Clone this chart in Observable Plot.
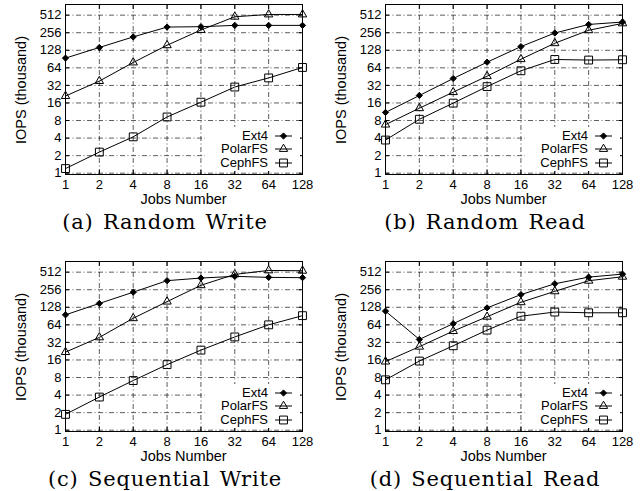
<!DOCTYPE html>
<html>
<head>
<meta charset="utf-8">
<script src="https://cdn.jsdelivr.net/npm/d3@7"></script>
<script src="https://cdn.jsdelivr.net/npm/@observablehq/plot@0.6"></script>
<style>
  html, body { margin: 0; padding: 0; background: #fff; }
  #root { position: relative; width: 644px; height: 491px; overflow: hidden; }
  .panel { position: absolute; width: 330px; height: 240px; }
  .panel svg { position: absolute; left: 0; top: 0; }
  .caption { position: absolute; left: 0; width: 330px; top: 209px; text-align: center;
    font-family: "DejaVu Serif", serif; font-size: 21px; line-height: 26px; letter-spacing: 0.8px; word-spacing: 2px; color: #000; white-space: nowrap; }
  .xlabel { position: absolute; left: 65px; width: 237px; top: 191px; text-align: center;
    font-family: "Liberation Sans", Arial, sans-serif; font-size: 14.5px; line-height: 16px; color: #000; white-space: nowrap; }
  .ylabel { position: absolute; left: 21px; top: 90px; width: 0; height: 0; }
  .ylabel span { position: absolute; left: 0; top: 0; transform: translate(-50%, -50%) rotate(-90deg);
    font-family: "Liberation Sans", Arial, sans-serif; font-size: 14.5px; line-height: 16px; color: #000; white-space: nowrap; }
  .legend { position: absolute; left: 205px; top: 127px; width: 95px; height: 44px; background: #fff;
    font-family: "Liberation Sans", Arial, sans-serif; font-size: 13px; color: #000; }
  .legend .row { position: absolute; left: 0; width: 95px; height: 14px; }
  .legend .row span { position: absolute; right: 32px; top: 0px; line-height: 14px; white-space: nowrap; }
  .legend .row svg { position: absolute; left: 66px; top: 0; }
</style>
</head>
<body>
<div id="root"></div>
<script>
// ---- data ----
const jobs = [1, 2, 4, 8, 16, 32, 64, 128];
const yTicks = [1, 2, 4, 8, 16, 32, 64, 128, 256, 512];
const seriesNames = ["Ext4", "PolarFS", "CephFS"];
const panelTitles = ["(a) Random Write", "(b) Random Read", "(c) Sequential Write", "(d) Sequential Read"];
const xLabel = "Jobs Number";
const yLabel = "IOPS (thousand)";

const randWriteExt4    = [94, 143, 217, 320, 325, 342, 342, 342];
const randWritePolarFS = [21, 38, 79, 156, 285, 481, 526, 526];
const randWriteCephFS  = [1.2, 2.3, 4.2, 9.2, 16.5, 30, 43, 65];

const randReadExt4    = [11, 21.5, 42, 80, 148, 253, 355, 390];
const randReadPolarFS = [6.8, 13, 24.5, 46, 90, 169, 282, 370];
const randReadCephFS  = [3.7, 8.4, 15.9, 30.5, 57, 89, 87, 88];

const seqWriteExt4    = [95, 149, 232, 366, 406, 434, 417, 412];
const seqWritePolarFS = [21.8, 39, 83, 160, 305, 469, 548, 541];
const seqWriteCephFS  = [1.87, 3.7, 7.1, 13.3, 23.6, 39.7, 64, 92];

const seqReadExt4    = [110, 36, 67, 125, 211, 324, 421, 474];
const seqReadPolarFS = [15, 27, 50, 88, 156, 240, 365, 427];
const seqReadCephFS  = [7.3, 15.3, 28, 52, 90, 106, 103, 103];

const panelSeries = [
  [randWriteExt4, randWritePolarFS, randWriteCephFS],
  [randReadExt4, randReadPolarFS, randReadCephFS],
  [seqWriteExt4, seqWritePolarFS, seqWriteCephFS],
  [seqReadExt4, seqReadPolarFS, seqReadCephFS]
];

// ---- styles ----
const markerStyle = {
  Ext4:    {symbol: "diamond2", r: 2.8, fill: "black", stroke: "black"},
  PolarFS: {symbol: "triangle2", r: 4.0, fill: "none", stroke: "black"},
  CephFS:  {symbol: "square2", r: 5.0, fill: "none", stroke: "black"}
};
const panelPos = [[0, 0], [320, 0], [0, 257], [320, 257]];

const root = document.getElementById("root");

function rows(vals, name) {
  return jobs.map((j, i) => ({jobs: j, iops: vals[i], series: name}));
}

panelSeries.forEach((series, p) => {
  const panel = document.createElement("div");
  panel.className = "panel";
  panel.style.left = panelPos[p][0] + "px";
  panel.style.top = panelPos[p][1] + "px";
  root.appendChild(panel);

  const gridStyle = {stroke: "#111", strokeOpacity: 0.85, strokeWidth: 0.8, strokeDasharray: "5,2.5,1,2.5"};
  const marks = [
    Plot.gridX(jobs, gridStyle),
    Plot.gridY(yTicks, gridStyle),
    Plot.axisX(jobs, {anchor: "bottom", tickSize: 0, tickPadding: 5, fontSize: 13, tickFormat: d => String(d), label: null}),
    Plot.axisX(jobs, {anchor: "bottom", tickSize: -4, text: null, label: null}),
    Plot.axisX(jobs, {anchor: "top", tickSize: -4, text: null, label: null}),
    Plot.axisY(yTicks, {anchor: "left", tickSize: 0, tickPadding: 4, fontSize: 13, tickFormat: d => String(d), label: null}),
    Plot.axisY(yTicks, {anchor: "left", tickSize: -4, text: null, label: null}),
    Plot.axisY(yTicks, {anchor: "right", tickSize: -4, text: null, label: null}),
    Plot.frame({stroke: "black", strokeWidth: 1})
  ];
  series.forEach((vals, s) => {
    const name = seriesNames[s];
    const data = rows(vals, name);
    marks.push(Plot.line(data, {x: "jobs", y: "iops", stroke: "black", strokeWidth: 1}));
    const ms = markerStyle[name];
    marks.push(Plot.dot(data, {x: "jobs", y: "iops", symbol: ms.symbol, r: ms.r, fill: ms.fill, stroke: ms.stroke, strokeWidth: 1}));
  });

  const chart = Plot.plot({
    width: 322,
    height: 210,
    marginLeft: 65,
    marginRight: 20,
    marginTop: 4,
    marginBottom: 36,
    style: {fontFamily: "'Liberation Sans', Arial, sans-serif", fontSize: "13px", color: "black", background: "white"},
    x: {type: "log", base: 2, domain: [1, 128]},
    y: {type: "log", base: 2, domain: [0.95, 780]},
    marks
  });
  panel.appendChild(chart);

  // axis labels
  const xl = document.createElement("div");
  xl.className = "xlabel";
  xl.textContent = xLabel;
  panel.appendChild(xl);
  const yl = document.createElement("div");
  yl.className = "ylabel";
  const ys = document.createElement("span");
  ys.textContent = yLabel;
  yl.appendChild(ys);
  panel.appendChild(yl);

  // legend
  const leg = document.createElement("div");
  leg.className = "legend";
  const symMap = {diamond2: d3.symbolDiamond2, triangle2: d3.symbolTriangle2, square2: d3.symbolSquare2};
  seriesNames.forEach((name, i) => {
    const row = document.createElement("div");
    row.className = "row";
    row.style.top = (1.5 + i * 13.5) + "px";
    const sp = document.createElement("span");
    sp.textContent = name;
    row.appendChild(sp);
    const ms = markerStyle[name];
    const svg = d3.create("svg").attr("width", 26).attr("height", 14);
    svg.append("line").attr("x1", 4).attr("x2", 21).attr("y1", 7).attr("y2", 7).attr("stroke", "black").attr("stroke-width", 1);
    svg.append("path")
      .attr("d", d3.symbol(symMap[ms.symbol], ms.r * ms.r * Math.PI)())
      .attr("transform", "translate(12.5,7)")
      .attr("fill", ms.fill).attr("stroke", ms.stroke).attr("stroke-width", 1);
    row.appendChild(svg.node());
    leg.appendChild(row);
  });
  panel.appendChild(leg);

  const cap = document.createElement("div");
  cap.className = "caption";
  cap.textContent = panelTitles[p];
  panel.appendChild(cap);
});
</script>
</body>
</html>
